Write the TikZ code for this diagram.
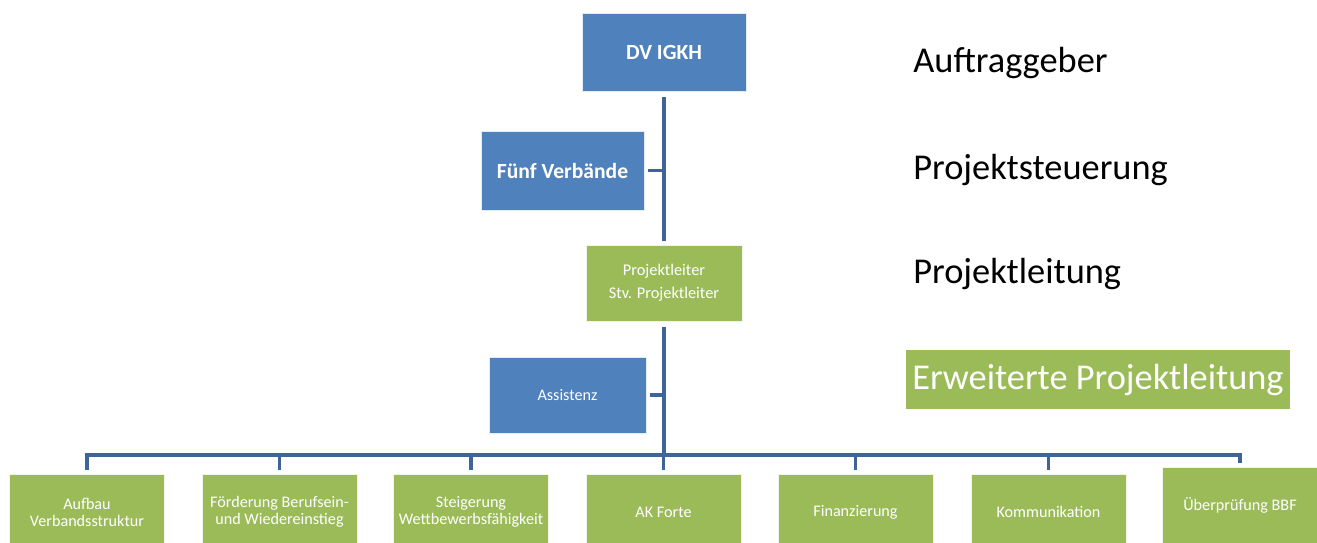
\documentclass[tikz,border=0pt]{standalone}
\usepackage{fontspec}
\setmainfont{Carlito}
\usepackage{tikz}
\usetikzlibrary{arrows.meta}

\definecolor{boxblue}{HTML}{4F81BD}
\definecolor{boxgreen}{HTML}{9BBB59}
\definecolor{linkblue}{RGB}{62,100,152}

\begin{document}
\begin{tikzpicture}[x=0.02cm, y=-0.02cm]
    \tikzset{unit/.style = {rectangle, draw=white!85!boxblue, line width=0.4pt, text=white, align=center, inner sep=2pt}}
    \tikzset{bluebox/.style = {unit, fill=boxblue}}
    \tikzset{greenbox/.style = {unit, fill=boxgreen, draw=white!85!boxgreen}}
    \tikzset{topbox/.style = {bluebox, minimum width=3.28cm, minimum height=1.56cm, font=\fontsize{12.3}{14}\selectfont\bfseries}}
    \tikzset{sidebox/.style = {bluebox, minimum width=3.14cm, minimum height=1.52cm}}
    \tikzset{task/.style = {greenbox, minimum width=3.1cm, minimum height=1.52cm, font=\fontsize{9.2}{9.8}\selectfont}}
    \tikzset{level/.style = {anchor=west, inner sep=0pt, font=\fontsize{20.7}{24}\selectfont}}
    \tikzset{conn/.style = {draw=linkblue, line width=2pt, shorten <=3pt, shorten >=2pt}}
    \useasboundingbox (0,0) rectangle (1317,542);
    % upper part
    \node[topbox] (dv) at (664,52) {DV IGKH};
    \node[topbox, minimum width=3.26cm, minimum height=1.58cm] (fv) at (562.5,170.5) {Fünf Verbände};
    \node[greenbox, minimum width=3.12cm, minimum height=1.52cm, font=\fontsize{9.3}{13}\selectfont] (pl) at (664,283) {Projektleiter\\Stv. Projektleiter};
    \node[sidebox, font=\fontsize{9.2}{11}\selectfont] (as) at (567.5,395) {Assistenz};
    % task groups
    \node[task] (aufbau) at (87,512) {Aufbau\\Verbandsstruktur};
    \node[task] (foerd) at (279.5,512) {Förderung Berufsein-\\und Wiedereinstieg};
    \node[task] (steig) at (471,512) {Steigerung\\Wettbewerbsfähigkeit};
    \node[task] (akf) at (663.5,512) {AK Forte};
    \node[task] (fin) at (855.5,512) {Finanzierung};
    \node[task] (komm) at (1048.5,512) {Kommunikation};
    \node[task] (bbf) at (1240,505) {Überprüfung BBF};
    % levels
    \node[level] (auftr) at (913,63) {Auftraggeber};
    \node[level] (steu) at (913,170) {Projektsteuerung};
    \node[level] (leit) at (913,274) {Projektleitung};
    \node[level, fill=boxgreen, text=white, minimum height=1.18cm, inner xsep=0.12cm] (erw) at (906,379.5) {Erweiterte Projektleitung};
    % connectors
    \coordinate (bus) at (664,455);
    \draw[conn] (dv.south) -- (pl.north);
    \draw[conn, shorten <=2pt, shorten >=0pt] (fv.east) -- (fv.east -| dv.south);
    \draw[conn, shorten >=0pt] (pl.south) -- (bus);
    \draw[conn, shorten <=2pt, shorten >=0pt] (as.east) -- (as.east -| pl.south);
    \draw[conn, shorten <=0pt] (bus) -| (aufbau.north);
    \draw[conn, shorten <=0pt] (bus) -| (foerd.north);
    \draw[conn, shorten <=0pt] (bus) -| (steig.north);
    \draw[conn, shorten <=0pt] (bus) -| (akf.north);
    \draw[conn, shorten <=0pt] (bus) -| (fin.north);
    \draw[conn, shorten <=0pt] (bus) -| (komm.north);
    \draw[conn, shorten <=0pt] (bus) -| (bbf.north);
  \end{tikzpicture}
\end{document}
